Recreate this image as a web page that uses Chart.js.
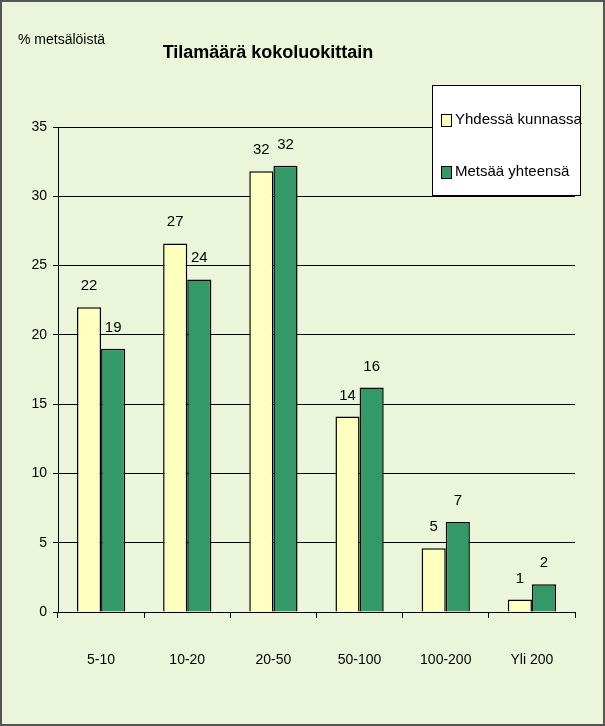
<!DOCTYPE html>
<html><head><meta charset="utf-8">
<script src="https://cdn.jsdelivr.net/npm/chart.js@4/dist/chart.umd.min.js"></script>
<style>html,body{margin:0;padding:0;background:#fff}#w{width:605px;height:726px;position:relative}</style>
</head><body><div id="w"><canvas id="c" width="605" height="726"></canvas></div>
<script>
const categories = ['5-10','10-20','20-50','50-100','100-200','Yli 200'];
const yhdessa = [22, 26.6, 31.8, 14.1, 4.6, 0.9];
const metsaa = [19, 24, 32.2, 16.2, 6.5, 2.0];
const seriesNames = ['Yhdessä kunnassa','Metsää yhteensä'];
const colors = ['#ffffc0','#339966'];
const FONT = '"Liberation Sans", Arial, sans-serif';

const deco = {
  id:'deco',
  beforeDraw(ch){
    const c=ch.ctx; c.save();
    c.fillStyle='#ebf5d9'; c.fillRect(0,0,605,726);
    c.strokeStyle='#555'; c.lineWidth=2; c.strokeRect(1,1,603,724);
    c.restore();
  },
  afterDraw(ch){
    const c=ch.ctx; c.save();
    c.fillStyle='#000'; c.font='14px '+FONT; c.textAlign='left'; c.textBaseline='alphabetic';
    c.fillText('% metsälöistä',18,44);
    c.font='bold 18px '+FONT; c.textAlign='center';
    c.fillText('Tilamäärä kokoluokittain',268,58);
    c.font='15px '+FONT;
    ch.data.datasets.forEach((ds,i)=>{
      ch.getDatasetMeta(i).data.forEach((b,j)=>{
        c.fillText(Math.round(ds.data[j]),b.x,b.y-17);
      });
    });
    c.fillStyle='#fff'; c.fillRect(432,85,148,110);
    c.strokeStyle='#000'; c.lineWidth=1; c.strokeRect(432.5,85.5,148,110);
    c.textAlign='left'; c.textBaseline='middle'; c.font='15px '+FONT;
    [120,172].forEach((y,i)=>{
      c.fillStyle=colors[i]; c.fillRect(441,y-6,10,12);
      c.strokeRect(441.5,y-5.5,10,12);
      c.fillStyle='#000'; c.fillText(seriesNames[i],455,y);
    });
    c.restore();
  }
};

new Chart(document.getElementById('c'),{
  type:'bar',
  data:{labels:categories,datasets:[
    {label:seriesNames[0],data:yhdessa,backgroundColor:colors[0],borderColor:'#000',borderWidth:1.5},
    {label:seriesNames[1],data:metsaa,backgroundColor:colors[1],borderColor:'#000',borderWidth:1.5}
  ]},
  options:{
    responsive:false,animation:false,devicePixelRatio:1,
    layout:{padding:{left:0,right:30,top:127,bottom:54}},
    plugins:{legend:{display:false},tooltip:{enabled:false}},
    datasets:{bar:{categoryPercentage:0.56,barPercentage:1}},
    scales:{
      x:{grid:{display:true,drawOnChartArea:false,color:'#000',tickLength:6},border:{color:'#000'},
         ticks:{color:'#000',font:{size:14,family:FONT},padding:34},
         afterFit(s){s.height=60;}},
      y:{min:0,max:35,ticks:{stepSize:5,color:'#000',font:{size:14,family:FONT},padding:6},
         grid:{color:'#000',tickLength:5},border:{color:'#000'},
         afterFit(s){s.width=58;}}
    }
  },
  plugins:[deco]
});
</script></body></html>
